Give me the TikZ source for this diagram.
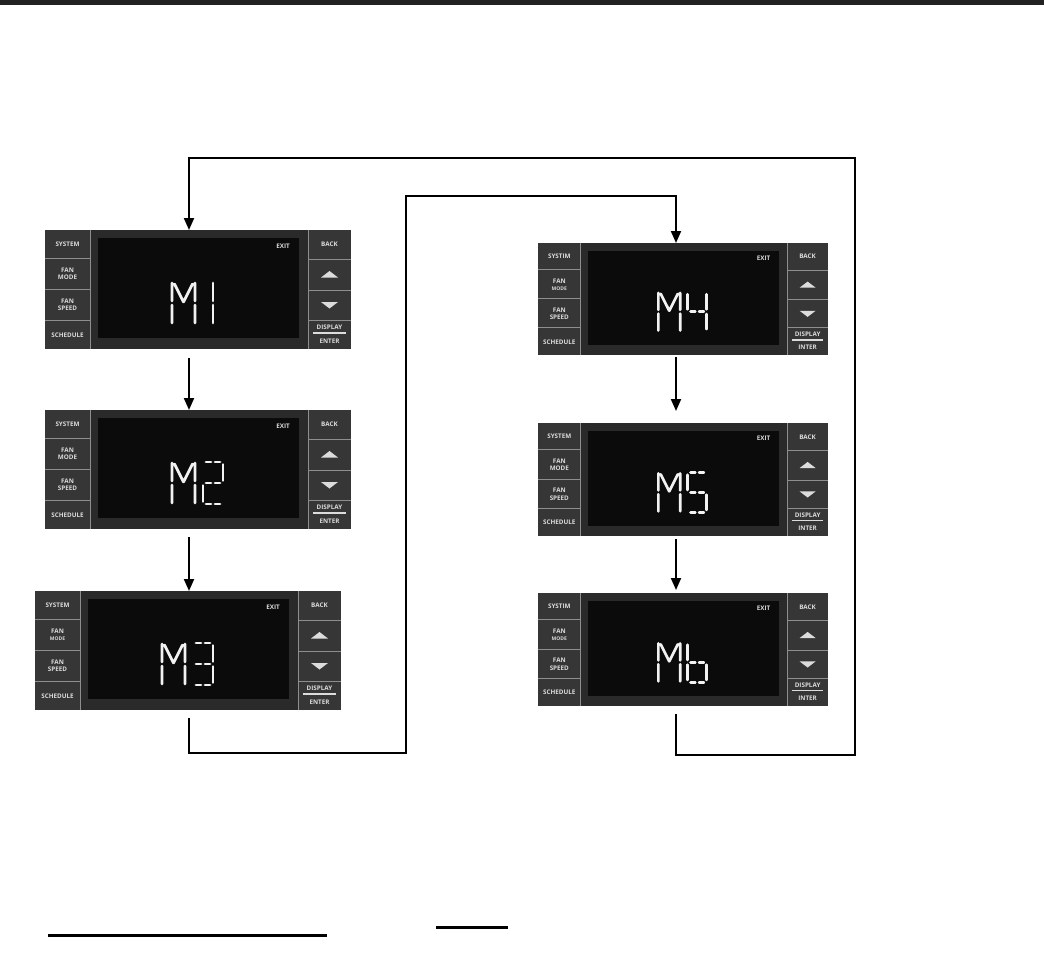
\documentclass[tikz,border=0pt]{standalone}
\usepackage{fontspec}
\newfontfamily\btnfont{Open Sans}
\usetikzlibrary{arrows.meta,calc}
\definecolor{barcol}{HTML}{222222}
\definecolor{bodycol}{HTML}{2A2A2A}
\definecolor{btncol}{HTML}{363636}
\definecolor{sepcol}{HTML}{8E8E8E}
\definecolor{scrcol}{HTML}{0B0B0B}
\definecolor{lblcol}{HTML}{DCDCDC}
\tikzset{
  x=1pt, y=-1pt,
  panel/.style={draw=none, fill=bodycol, rectangle, inner sep=0pt, outer sep=0pt, anchor=north west},
  flow/.style={line width=2pt, draw=black},
  arrow/.style={flow, -{Triangle[width=10pt,length=12pt]}},
  seg/.style={line width=2.7pt, line cap=round, draw=white!95!black},
  btntext/.style={text=lblcol, font=\btnfont\bfseries\fontsize{6.3}{7.2}\selectfont, align=center, inner sep=0pt},
  sepline/.style={draw=sepcol, line width=0.9pt},
}
% segment helpers (local panel frame 306 x 119)
\newcommand\sA{\draw[seg] (161,52)--(166,52) (170,52)--(175,52);}
\newcommand\sB{\draw[seg] (178,54.5)--(178,70.5);}
\newcommand\sC{\draw[seg] (178,75.5)--(178,91.5);}
\newcommand\sD{\draw[seg] (161,94)--(166,94) (170,94)--(175,94);}
\newcommand\sE{\draw[seg] (158,75.5)--(158,91.5);}
\newcommand\sF{\draw[seg] (158,54.5)--(158,70.5);}
\newcommand\sG{\draw[seg] (161,73)--(166,73) (170,73)--(175,73);}
\newcommand\charM{\draw[seg] (127,53)--(127,71) (127,75)--(127,93) (150,53)--(150,71) (150,75)--(150,93) (129.5,54)--(138.5,72) (147.5,54)--(138.5,72);}
\newcommand\dOne{\draw[seg] (168,53)--(168,71) (168,75)--(168,93);}
\newcommand\dTwo{\sA\sB\sG\sE\sD}
\newcommand\dThree{\sA\sB\sG\sC\sD}
\newcommand\dFour{\sF\sB\sG\sC}
\newcommand\dFive{\sA\sF\sG\sC\sD}
\newcommand\dSixb{\sF\sE\sG\sC\sD}
% name, x, y, w, h, system label, mode font, enter label, digits
\newcommand\thermo[9]{%
  \node[panel, minimum width=#4pt, minimum height=#5pt] (#1) at (#2,#3) {};
  \begin{scope}[shift={(#1.north west)}, xscale=#4/306, yscale=#5/119]
    \fill[btncol] (0,0) rectangle (45,119);
    \fill[btncol] (263,0) rectangle (306,119);
    \fill[scrcol] (53,8) rectangle (254,108);
    \draw[sepline] (45,0)--(45,119) (263,0)--(263,119)
      (0,28)--(45,28) (0,59)--(45,59) (0,90)--(45,90)
      (263,29)--(306,29) (263,60)--(306,60) (263,90)--(306,90);
    \node[btntext] (#1-sys) at (22.5,14) {#6};
    \node[btntext] (#1-mode) at (22.5,44) {FAN\\{#7MODE}};
    \node[btntext] (#1-spd) at (22.5,75) {FAN\\SPEED};
    \node[btntext] (#1-sch) at (22.5,105) {SCHEDULE};
    \node[btntext] (#1-back) at (284.5,14.5) {BACK};
    \fill[lblcol] (276,47.5) -- (293,47.5) -- (284.5,41) -- cycle;
    \fill[lblcol] (276,72) -- (293,72) -- (284.5,78.5) -- cycle;
    \node[btntext] (#1-disp) at (284.5,97) {DISPLAY};
    \draw[lblcol, line width=1.3pt] (268,103) -- (301,103);
    \node[btntext] (#1-ent) at (284.5,111) {#8};
    \node[btntext] (#1-exit) at (238,16) {EXIT};
    \charM
    #9
  \end{scope}
}
\begin{document}
\begin{tikzpicture}
\useasboundingbox (0,0) rectangle (1044,963);
\fill[barcol] (0,0) rectangle (1044,5);

\thermo{m1}{45}{230}{306}{119}{SYSTEM}{}{ENTER}{\dOne}
\thermo{m2}{45}{410}{306}{119}{SYSTEM}{}{ENTER}{\dTwo}
\thermo{m3}{35}{591}{306}{119}{SYSTEM}{\fontsize{5}{5.6}\selectfont}{ENTER}{\dThree}
\thermo{m4}{538}{243}{290}{112}{SYSTIM}{\fontsize{5}{5.6}\selectfont}{INTER}{\dFour}
\thermo{m5}{538}{423}{290}{113}{SYSTEM}{}{INTER}{\dFive}
\thermo{m6}{538}{593}{290}{113}{SYSTIM}{\fontsize{5}{5.6}\selectfont}{INTER}{\dSixb}

\coordinate (tl) at (189,158);
\coordinate (tr) at (855,158);
\coordinate (br) at (855,755);
\coordinate (bl) at (406,753);
\coordinate (ml) at (406,196);

\draw[arrow] ([xshift=-9pt,yshift=-9pt]m1.south) -- ([xshift=-9pt]m2.north);
\draw[arrow] ([xshift=-9pt,yshift=-8pt]m2.south) -- ([xshift=1pt]m3.north);
\draw[arrow, shorten >=12pt] ([xshift=-7pt,yshift=-2pt]m4.south) -- ([xshift=-7pt]m5.north);
\draw[arrow, shorten >=3pt] ([xshift=-7pt,yshift=-3pt]m5.south) -- ([xshift=-7pt]m6.north);
\draw[arrow] ([xshift=-7pt,yshift=-8pt]m6.south) |- (br) -- (tr) -- (tl) -- ([xshift=-9pt]m1.north);
\draw[arrow] ([xshift=1pt,yshift=-8pt]m3.south) |- (bl) -- (ml) -| ([xshift=-7pt]m4.north);

\draw[line width=3pt] (48,935) -- (327,935);
\draw[line width=3pt] (436,927) -- (508,927);
\end{tikzpicture}
\end{document}
